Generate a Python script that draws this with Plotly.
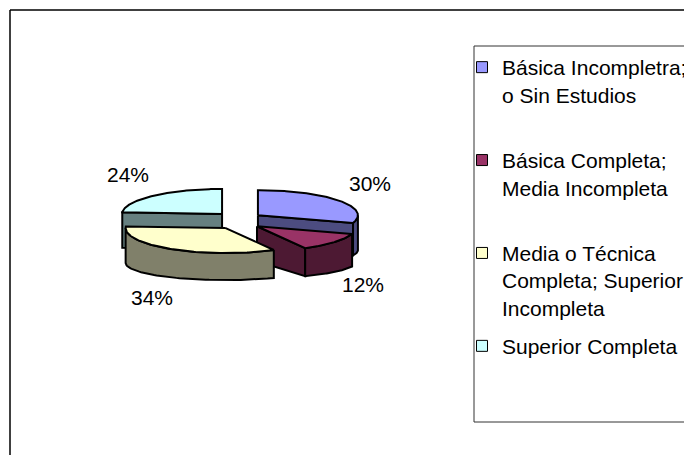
import numpy as np
import plotly.graph_objects as go

# ---- data ----
categories = ["Básica Incompletra; o Sin Estudios",
              "Básica Completa; Media Incompleta",
              "Media o Técnica Completa; Superior Incompleta",
              "Superior Completa"]
legend_labels = ["Básica Incompletra;<br>o Sin Estudios<br> ",
                 "Básica Completa;<br>Media Incompleta<br> ",
                 "Media o Técnica<br>Completa; Superior<br>Incompleta",
                 "Superior Completa"]
values = [30, 12, 34, 24]
top_colors = ["#9999FF", "#993366", "#FFFFCC", "#CCFFFF"]
side_colors = ["#4C4C80", "#4D1933", "#80806A", "#668080"]

W, H = 692, 455
OFF = 8  # page body margin, so data units == page pixels
FW, FH = W - OFF, H - OFF
FONT = "Liberation Sans, Arial, sans-serif"

# ---- 3D pie geometry (pixel space) ----
CX, CY = 238.5, 220.5      # pie centre
RX, RY = 100.0, 25.0       # top ellipse radii
EX, EY = 24.0, 9.0         # explosion offsets
D, RYB = 35.0, 17.0        # depth of extrusion, bottom ellipse y-radius
LX, LY, LDROP = 138.0, 54.0, 24.0  # label placement

total = float(sum(values))
angles = np.cumsum([0] + [v / total * 360.0 for v in values])

fig = go.Figure()

def rad(a):
    return np.deg2rad(a)

def top_pts(ax, ay, th):
    return ax + RX * np.sin(rad(th)), ay - RY * np.cos(rad(th))

def bot_pts(ax, ay, th):
    return ax + RX * np.sin(rad(th)), ay + D - RYB * np.cos(rad(th))

def poly(xs, ys, color):
    fig.add_trace(go.Scatter(x=list(xs) + [xs[0]], y=list(ys) + [ys[0]],
                             mode="lines", fill="toself", fillcolor=color,
                             line=dict(color="black", width=2),
                             hoverinfo="skip", showlegend=False))

slices = []
for i, v in enumerate(values):
    a1, a2 = angles[i], angles[i + 1]
    b = (a1 + a2) / 2.0
    ax = CX + EX * np.sin(rad(b))
    ay = CY - EY * np.cos(rad(b))
    slices.append((i, a1, a2, b, ax, ay))

# back to front
order = sorted(slices, key=lambda s: -np.cos(rad(s[3])))
annotations = []
for (i, a1, a2, b, ax, ay) in order:
    side = side_colors[i]
    # radial faces
    for a, vis in ((a1, np.sin(rad(a1)) < -1e-6), (a2, np.sin(rad(a2)) > 1e-6)):
        if vis:
            tx, ty = top_pts(ax, ay, a)
            bx, by = bot_pts(ax, ay, a)
            poly([ax, tx, bx, ax], [ay, ty, by, ay + D], side)
    # curved rim face (front half)
    lo, hi = max(a1, 90.0), min(a2, 270.0)
    if hi > lo:
        th = np.linspace(lo, hi, 60)
        tx, ty = top_pts(ax, ay, th)
        bx, by = bot_pts(ax, ay, th)
        poly(np.concatenate([tx, bx[::-1]]), np.concatenate([ty, by[::-1]]), side)
    # top face
    th = np.linspace(a1, a2, 120)
    tx, ty = top_pts(ax, ay, th)
    poly(np.concatenate([[ax], tx]), np.concatenate([[ay], ty]), top_colors[i])
    # label
    lx = ax + LX * np.sin(rad(b))
    ly = ay - LY * np.cos(rad(b)) + (LDROP if np.cos(rad(b)) < 0 else 0)
    annotations.append(dict(x=lx, y=ly, xref="x", yref="y", showarrow=False,
                            text=f"{round(values[i] / total * 100)}%",
                            font=dict(family=FONT, size=21, color="black"),
                            xanchor="center", yanchor="middle"))

# legend entries
for i, lab in enumerate(legend_labels):
    fig.add_trace(go.Scatter(x=[None], y=[None], mode="markers", name=lab,
                             legendgroup=str(i),
                             marker=dict(symbol="square", size=11, color=top_colors[i],
                                         line=dict(color="black", width=1))))

shapes = [
    dict(type="line", xref="x", yref="y", x0=10, y0=10, x1=10, y1=H + 20,
         line=dict(color="black", width=1.5)),
    dict(type="line", xref="x", yref="y", x0=10, y0=10, x1=W + 20, y1=10,
         line=dict(color="black", width=1.5)),
    dict(type="rect", xref="x", yref="y", x0=474, y0=46, x1=W + 20, y1=422,
         line=dict(color="#333333", width=1)),
]

fig.update_layout(
    width=FW, height=FH, autosize=False,
    margin=dict(l=0, r=0, t=0, b=0),
    paper_bgcolor="white", plot_bgcolor="white",
    xaxis=dict(range=[OFF, W], visible=False, fixedrange=True),
    yaxis=dict(range=[H, OFF], visible=False, fixedrange=True),
    shapes=shapes, annotations=annotations,
    showlegend=True,
    legend=dict(x=(462 - OFF) / FW, y=1 - (47 - OFF) / FH, xanchor="left", yanchor="top",
                bgcolor="rgba(0,0,0,0)", borderwidth=0,
                font=dict(family=FONT, size=21, color="black"),
                tracegroupgap=8, valign="top", itemwidth=30),
    font=dict(family=FONT),
)

fig.write_html("out.html", config={"displayModeBar": False})
